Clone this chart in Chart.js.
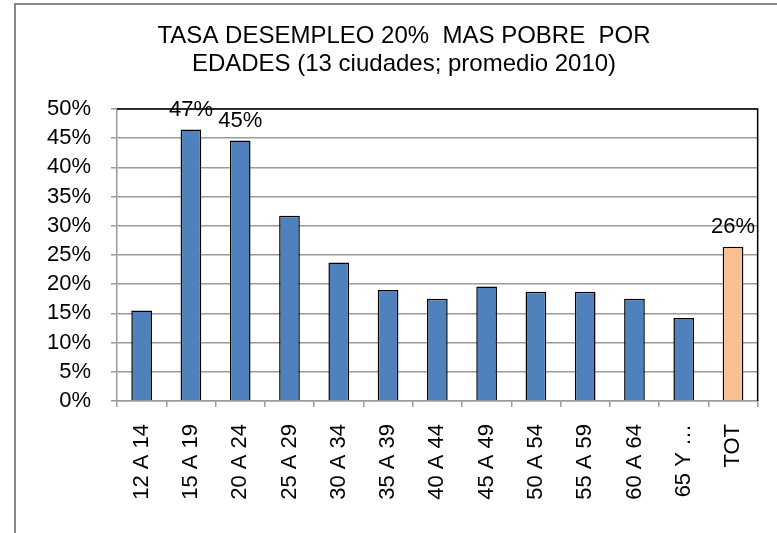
<!DOCTYPE html>
<html>
<head>
<meta charset="utf-8">
<script src="https://cdn.jsdelivr.net/npm/chart.js@4"></script>
<style>
  html, body { margin: 0; padding: 0; background: #fff; }
  #wrap { width: 777px; height: 533px; }
</style>
</head>
<body>
<div id="wrap"><canvas id="grafico" width="777" height="533"></canvas></div>
<script>
const titulo = ['TASA DESEMPLEO 20%  MAS POBRE  POR', 'EDADES (13 ciudades; promedio 2010)']
const edades = ['12 A 14', '15 A 19', '20 A 24', '25 A 29', '30 A 34', '35 A 39', '40 A 44',
  '45 A 49', '50 A 54', '55 A 59', '60 A 64', '65 Y …', 'TOT']
const tasa = [15.5, 46.5, 44.6, 31.7, 23.7, 19.0, 17.5, 19.6, 18.7, 18.7, 17.5, 14.2, 26.4]
const etiquetas = ['', '47%', '45%', '', '', '', '', '', '', '', '', '', '26%']
const colores = ['#4F81BD', '#4F81BD', '#4F81BD', '#4F81BD', '#4F81BD', '#4F81BD', '#4F81BD',
  '#4F81BD', '#4F81BD', '#4F81BD', '#4F81BD', '#4F81BD', '#FAC090']
const ticksY = [0, 5, 10, 15, 20, 25, 30, 35, 40, 45, 50]

const fuente = '"Liberation Sans", Arial, sans-serif'
const gris = '#9a9a9a'

// marco exterior, titulo y borde negro arriba/derecha del area
const marco = {
  id: 'marco',
  beforeDraw(chart) {
    const ctx = chart.ctx
    ctx.save()
    ctx.fillStyle = '#fff'
    ctx.fillRect(0, 0, chart.width, chart.height)
    ctx.strokeStyle = '#888'
    ctx.lineWidth = 2
    ctx.beginPath()
    ctx.moveTo(15, chart.height)
    ctx.lineTo(15, 4)
    ctx.lineTo(chart.width, 4)
    ctx.stroke()

    ctx.fillStyle = '#000'
    ctx.font = '24px ' + fuente
    ctx.textAlign = 'center'
    ctx.textBaseline = 'middle'
    ctx.fillText(titulo[0], 404, 36)
    ctx.fillText(titulo[1], 404, 64)
    ctx.restore()
  },
  afterDraw(chart) {
    const a = chart.chartArea
    const ctx = chart.ctx
    ctx.save()
    ctx.strokeStyle = '#000'
    ctx.lineWidth = 1.5
    ctx.beginPath()
    ctx.moveTo(a.left, a.top)
    ctx.lineTo(a.right, a.top)
    ctx.lineTo(a.right, a.bottom)
    ctx.stroke()
    ctx.restore()
  }
}

const valores = {
  id: 'valores',
  afterDatasetsDraw(chart) {
    const ctx = chart.ctx
    const meta = chart.getDatasetMeta(0)
    ctx.save()
    ctx.font = '22px ' + fuente
    ctx.fillStyle = '#000'
    ctx.textAlign = 'center'
    ctx.textBaseline = 'middle'
    meta.data.forEach((bar, i) => {
      if (etiquetas[i]) ctx.fillText(etiquetas[i], bar.x, bar.y - 20)
    })
    ctx.restore()
  }
}

new Chart(document.getElementById('grafico'), {
  type: 'bar',
  data: {
    labels: edades,
    datasets: [{
      data: tasa,
      backgroundColor: colores,
      borderColor: '#000',
      borderWidth: 1.5,
      barPercentage: 0.42,
      categoryPercentage: 1
    }]
  },
  options: {
    responsive: false,
    animation: false,
    layout: { padding: { left: 0, right: 15, top: 109, bottom: 0 } },
    plugins: {
      legend: { display: false },
      tooltip: { enabled: false },
      title: { display: false }
    },
    scales: {
      y: {
        min: 0,
        max: 50,
        afterBuildTicks(scale) { scale.ticks = ticksY.map(v => ({ value: v })) },
        afterFit(scale) { scale.width = 117 },
        ticks: {
          callback: v => v + '%',
          color: '#000',
          autoSkip: false,
          padding: 20,
          font: { family: fuente, size: 22 }
        },
        grid: { color: gris, lineWidth: 1.5, tickLength: 6, tickColor: gris },
        border: { color: gris, width: 1.5 }
      },
      x: {
        afterFit(scale) { scale.height = 132 },
        ticks: {
          color: '#000',
          minRotation: 90,
          maxRotation: 90,
          autoSkip: false,
          padding: 17,
          font: { family: fuente, size: 22 }
        },
        grid: {
          offset: true,
          drawOnChartArea: false,
          tickLength: 6,
          tickColor: gris,
          lineWidth: 1.5
        },
        border: { color: gris, width: 1.5 }
      }
    }
  },
  plugins: [marco, valores]
})
</script>
</body>
</html>
